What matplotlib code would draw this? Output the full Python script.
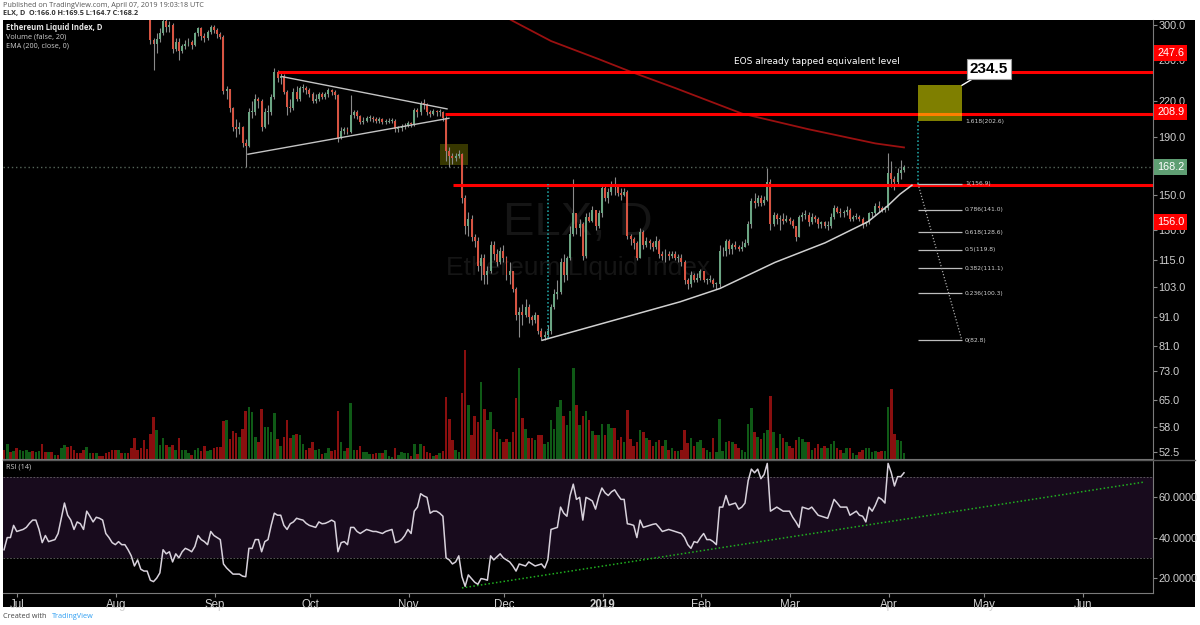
import matplotlib
matplotlib.use("Agg")
import matplotlib.pyplot as plt
import matplotlib.transforms as mtransforms
from matplotlib.patches import Rectangle
from matplotlib.lines import Line2D
import numpy as np
import pandas as pd

plt.rcParams['font.family'] = ['Liberation Sans', 'DejaVu Sans']

W, H = 1200, 625

# ---------------- values ----------------
t0 = pd.Timestamp("2018-07-01")        # x = days since this date

candle_first = "2018-08-10"
open_first = 345.0
closes = [
    335, 320, 318, 282, 278, 283, 290, 305, 297, 300, 272, 280, 270, 275, 278, 280, 276, 290, 296, 287, 284, 291,  # Aug 10-31
    297, 294, 289, 286, 229, 231, 214, 198, 196, 198, 185, 183, 210, 210, 222, 220, 198, 210, 210, 224, 248, 242, 244, 228, 215, 214, 228, 222, 232, 232,  # Sep
    230, 226, 220, 222, 226, 224, 226, 230, 228, 225, 189, 195, 196, 194, 208, 210, 207, 202, 203, 205, 205, 204, 203, 204, 202, 202, 203, 203, 196, 197, 198,  # Oct
    199, 201, 200, 212, 210, 218, 217, 210, 209, 211, 210, 210, 205, 179, 176, 174, 176, 177, 148, 132, 136, 126, 124, 112, 116, 108, 110, 122, 118, 114,  # Nov
    119, 116, 108, 110, 102, 92, 93, 92, 95, 91, 90, 92, 86, 84, 84.5, 86, 95, 100, 101, 114, 108, 116, 128, 139, 131, 133, 117, 137, 135, 141, 132,  # Dec
    139, 154, 148, 152, 156, 155, 151, 150, 152, 127, 125, 123, 116, 129, 122, 124, 123, 121, 124, 118, 117, 118, 117, 118, 116, 116, 114, 106, 104, 108, 106,  # Jan
    107, 110, 106, 106, 106, 104, 104, 119, 119, 124, 120, 122, 121, 120, 121, 123, 133, 146, 145, 148, 145, 147, 158, 133, 138, 136, 136, 135,  # Feb
    136, 135, 132, 126, 137, 138, 138, 134, 137, 136, 133, 134, 132, 132, 137, 142, 140, 139, 140, 141, 136, 137, 137, 136, 133, 134, 139, 139, 143, 142, 141,  # Mar
    142, 164, 160, 158, 164, 166, 168.2,  # Apr 1-7
]
highs = [
    365, 335, 325, 320, 285, 290, 296, 312, 310, 305, 302, 285, 285, 278, 282, 284, 282, 292, 298, 297, 290, 294,
    300, 300, 296, 292, 288, 234, 231, 215, 204, 202, 199, 188, 214, 220, 226, 224, 222, 214, 216, 226, 252, 250, 248, 246, 230, 222, 232, 234, 234, 236,
    234, 232, 228, 226, 228, 228, 228, 232, 231, 230, 226, 198, 198, 198, 225, 212, 212, 208, 206, 207, 208, 207, 206, 206, 205, 204, 205, 205, 204, 199, 200,
    201, 203, 202, 214, 214, 220, 222, 218, 212, 213, 212, 213, 211, 207, 182, 178, 178, 180, 178, 150, 140, 138, 128, 126, 118, 118, 112, 124, 124, 120,
    121, 122, 117, 114, 110, 103, 95, 96, 98, 96, 92, 93, 92, 87, 86, 88, 96, 102, 106, 116, 118, 117, 132, 160, 139, 136, 134, 139, 140, 143, 141,
    141, 156, 156, 154, 159, 161, 157, 154, 154, 153, 128, 126, 124, 131, 130, 126, 125, 124, 127, 125, 119, 120, 119, 119, 119, 118, 118, 115, 107, 110, 109,
    109, 111, 110, 107, 108, 107, 105, 122, 121, 125, 125, 123, 124, 122, 124, 125, 135, 148, 151, 150, 150, 149, 167, 160, 140, 139, 138, 139,
    138, 137, 136, 132, 138, 140, 141, 140, 139, 138, 137, 135, 135, 135, 139, 144, 143, 142, 141, 143, 142, 138, 139, 138, 137, 135, 140, 140, 145, 146, 143,
    143, 178, 172, 162, 167, 173, 169.5,
]
lows = [
    330, 312, 310, 278, 250, 268, 280, 288, 292, 292, 268, 270, 260, 268, 272, 275, 272, 275, 287, 282, 280, 282,
    289, 290, 285, 283, 226, 222, 210, 195, 190, 192, 182, 168, 182, 205, 208, 214, 195, 197, 200, 208, 222, 238, 236, 226, 208, 210, 212, 220, 220, 228,
    226, 224, 218, 218, 220, 222, 222, 224, 225, 222, 186, 188, 192, 192, 193, 205, 204, 200, 200, 202, 203, 202, 201, 201, 200, 200, 201, 201, 194, 194, 195,
    196, 198, 198, 199, 206, 208, 213, 208, 206, 208, 207, 207, 203, 172, 168, 170, 172, 174, 145, 128, 127, 124, 121, 110, 106, 104, 104, 109, 115, 112,
    113, 114, 106, 104, 101, 90, 84, 88, 91, 89, 88, 89, 85, 82.8, 82.8, 84, 85, 94, 98, 100, 105, 106, 115, 127, 128, 127, 115, 116, 134, 134, 130,
    131, 137, 146, 145, 150, 150, 149, 147, 149, 125, 122, 120, 115, 116, 120, 121, 120, 119, 120, 116, 115, 114, 115, 116, 115, 114, 112, 104, 102, 103, 105,
    105, 106, 105, 104, 105, 103, 102, 103, 117, 117, 118, 118, 120, 119, 119, 121, 122, 131, 142, 143, 143, 144, 146, 130, 132, 133, 130, 133,
    134, 133, 131, 124, 126, 135, 136, 132, 133, 134, 131, 131, 131, 130, 131, 136, 139, 137, 137, 138, 135, 135, 136, 135, 131, 132, 133, 137, 138, 140, 140,
    140, 141, 155, 153, 157, 160, 164.7,
]

series_first = "2018-06-28"   # first day of the volume / RSI series
volume = [
    9, 15, 7, 8, 11, 9, 8, 9, 7, 8, 7, 8, 15,
    7, 7, 7, 4, 4, 11, 14, 12, 13, 9,
    6, 6, 9, 12, 6, 6, 6, 3, 3, 6,
    7, 9, 9, 9, 6, 6, 6, 11, 21, 9,
    11, 19, 10, 25, 42, 29, 14, 21, 14, 12,
    14, 9, 21, 9, 9, 6, 4, 9, 11, 8,
    13, 8, 9, 11, 12, 12, 38, 39, 20, 28,
    26, 22, 30, 48, 52, 47, 22, 17, 50, 32,
    32, 27, 46, 20, 13, 22, 39, 21, 24, 25,
    24, 15, 9, 11, 17, 9, 10, 5, 6, 11,
    8, 9, 48, 17, 8, 11, 56, 9, 9, 13,
    7, 7, 5, 5, 6, 6, 6, 9, 3, 2,
    11, 4, 7, 6, 6, 3, 15, 5, 15, 13,
    7, 6, 3, 4, 6, 8, 61, 40, 19, 9,
    7, 65, 108, 54, 24, 43, 37, 76, 50, 39,
    47, 30, 27, 20, 17, 20, 17, 27, 60, 90,
    41, 30, 21, 21, 19, 24, 24, 15, 17, 39,
    30, 52, 58, 43, 34, 48, 90, 54, 34, 43,
    48, 39, 28, 24, 24, 35, 24, 35, 31, 31,
    19, 22, 17, 49, 20, 13, 17, 29, 27, 21,
    19, 13, 17, 19, 13, 19, 9, 11, 8, 8,
    9, 29, 16, 21, 13, 17, 19, 11, 9, 7,
    21, 7, 40, 8, 17, 18, 17, 15, 11, 9,
    7, 35, 51, 27, 22, 20, 26, 29, 62, 27,
    11, 25, 21, 17, 13, 11, 19, 22, 20, 17,
    17, 9, 11, 15, 11, 13, 11, 15, 18, 11,
    9, 6, 11, 11, 6, 4, 7, 9, 11, 11,
    7, 8, 7, 8, 8, 52, 69, 25, 19, 18, 6,
]
# up/down colour of the volume bars that come before the first visible candle
vol_dir_early = "rgrgrggggr" + "ggrrgrgrgg" + "rrrrrrggrg" + "rrrrrrgrgr" + "rrr"

rsi = [
    34, 40, 40, 46, 43, 43.5, 44, 45, 47, 48.6, 48.6, 44, 37.5,
    41, 38, 38.5, 39, 42, 49.5, 57, 51, 48.6, 44,
    47.7, 46.8, 44, 53, 50.5, 47.7, 50, 49.5, 48.6, 42,
    40, 37.5, 36.5, 38, 36.5, 36.5, 34, 31, 26, 29,
    24.4, 23.5, 23.5, 19, 18.3, 20, 22.6, 34, 32, 33,
    28, 32, 30, 33, 34.7, 34, 33, 35.6, 41, 39,
    38, 36.5, 43, 41, 40, 39, 27, 25, 23.5, 22,
    22, 22, 21, 20.7, 34.7, 34.7, 39, 39, 33, 38,
    39, 46, 52, 51, 51, 46, 44, 46.8, 47.7, 49.5,
    49, 48.6, 47, 46, 45.5, 45, 47.7, 46.8, 47, 47.7,
    48.6, 47.7, 33, 37.5, 38, 36.5, 45, 45, 43, 42,
    43, 44, 43.5, 43, 43, 42.5, 42, 43, 43.5, 44,
    37.5, 38, 39, 41, 44, 42, 53, 55, 61.6, 60.5,
    59.8, 52, 53, 53, 52, 50.5, 30, 29, 27, 28,
    31, 20.7, 16, 21.6, 19.8, 18, 17, 19.8, 19.5, 19,
    31, 29, 30.5, 32, 30, 29, 28, 26, 23.5, 27,
    26.5, 26, 28, 27, 26, 26.5, 27, 25, 29, 44,
    44.5, 45, 55, 52, 50.5, 60.7, 66.3, 58.8, 59.8, 48.6,
    59.8, 59, 58, 54, 60, 64.4, 62, 60.7, 62.5, 63.5,
    61, 58.8, 58.8, 46.8, 46.5, 46, 40, 48.6, 45, 45.5,
    46, 46.5, 46.8, 45, 43, 43.5, 44, 43.5, 43, 42.5,
    42, 40, 36.5, 34.7, 38, 37.5, 40, 42, 39, 39,
    38, 36.5, 55, 55, 60.7, 56, 56.5, 57, 54, 55,
    57, 68, 73.7, 71.9, 73.7, 69, 71, 76.5, 53, 54,
    55, 54, 53, 53, 53, 50, 47.7, 45, 55, 54.5,
    54, 55, 53, 51, 50.5, 50, 49.5, 54, 58.8, 57,
    55, 55, 55, 51, 52, 53, 51, 50.5, 47.7, 55,
    53, 56, 59.8, 58.8, 57, 76.5, 71.9, 65.4, 70, 70, 71.9,
]

ema_dates = ["2018-11-30", "2018-12-05", "2018-12-17", "2019-01-01", "2019-01-11",
             "2019-01-25", "2019-02-15", "2019-03-08", "2019-03-29", "2019-04-07"]
ema_vals = [316, 305, 281, 261, 248, 232, 209, 196, 185, 182]

resist_levels = [247.6, 208.9, 156.0]
fib_ratios = ["1", "0.786", "0.618", "0.5", "0.382", "0.236", "0"]
fib_prices = [156.9, 141.0, 128.6, 119.8, 111.1, 100.3, 82.8]
ext_ratio, ext_price = "1.618", 202.6
target = 234.5
last_price = 168.2

# hand-drawn lines on the chart, (day, price)
tri_upper = ([84.4, 136.3], [243, 213])
tri_lower = ([73.7, 136.9], [177, 205])
support_x = [166.2, 209.6, 222.1, 239.4, 255.2, 263.0, 268.7, 275.0, 278.7, 282.5]
support_y = [82.8, 96.9, 102.3, 113.8, 123.3, 129.6, 134.4, 143.6, 150.3, 156.0]
rsi_trend = ([141, 355.8], [15.2, 67.4])

price_ticks = [300, 260, 220, 190, 150, 130, 115, 103, 91, 81, 73, 65, 58, 52.5]
rsi_ticks = [20, 40, 60]
month_starts = ["2018-07-01", "2018-08-01", "2018-09-01", "2018-10-01", "2018-11-01", "2018-12-01",
                "2019-01-01", "2019-02-01", "2019-03-01", "2019-04-01", "2019-05-01", "2019-06-01"]
month_labels = ["Jul", "Aug", "Sep", "Oct", "Nov", "Dec", "2019", "Feb", "Mar", "Apr", "May", "Jun"]

# ---------------- styling ----------------
UP, DN = '#6ba583', '#d75442'
VUP, VDN = '#0f5a16', '#8a0f0f'
WICK = '#8a8a8a'
TXT = '#d0d0d0'
RED = '#ff0000'


def day(s):
    return (pd.Timestamp(s) - t0).days


def fx(px):
    return px / W


def fy(py):
    return 1 - py / H


fig = plt.figure(figsize=(W / 100, H / 100), dpi=100)
fig.patch.set_facecolor('white')
fig.add_artist(Rectangle((fx(3), fy(607)), (1195 - 3) / W, (607 - 20) / H,
                         transform=fig.transFigure, facecolor='black', edgecolor='none', zorder=-1))

XL = (-3.33, 358.3)
rect_price = [fx(3), fy(459), (1153 - 3) / W, (459 - 20) / H]
rect_rsi = [fx(3), fy(593), (1153 - 3) / W, (593 - 461) / H]

axv = fig.add_axes(rect_price)
axv.set_facecolor('none')
axv.axis('off')
ax = fig.add_axes(rect_price)
ax.set_facecolor('none')
axr = fig.add_axes(rect_rsi)
axr.set_facecolor('none')

# candles
c = np.array(closes, float)
o = np.r_[open_first, c[:-1]]
hi = np.maximum(np.array(highs, float), np.maximum(o, c))
lo = np.minimum(np.array(lows, float), np.minimum(o, c))
cx = np.arange(len(c)) + day(candle_first)
up = c >= o
ccol = np.where(up, UP, DN)
ax.vlines(cx, lo, hi, colors=WICK, lw=0.8, zorder=3)
ax.bar(cx, np.maximum(np.abs(c - o), c * 0.004), bottom=np.minimum(o, c), width=0.62,
       color=ccol, linewidth=0, zorder=4)

# volume
vx = np.arange(len(volume)) + day(series_first)
vcol = []
for d in vx:
    if d < cx[0]:
        vcol.append(VUP if vol_dir_early[d - vx[0]] == 'g' else VDN)
    else:
        vcol.append(VUP if up[d - cx[0]] else VDN)
axv.bar(vx, volume, width=0.8, color=vcol, linewidth=0)
axv.set_xlim(XL)
axv.set_ylim(0, max(volume) * 4.03)

# EMA 200
ax.plot([day(s) for s in ema_dates], ema_vals, color='#9a1010', lw=1.3, zorder=2)

# last price line
ax.axhline(last_price, color='#56665a', ls=(0, (1, 2)), lw=1, zorder=1)

# resistance lines
for lvl, start in zip(resist_levels, [83.1, 135.7, 138.2]):
    ax.hlines(lvl, start, XL[1], colors=RED, lw=2.2, zorder=5)

# triangle and support curve
ax.plot(*tri_upper, color='#c4c4c4', lw=1, zorder=5)
ax.plot(*tri_lower, color='#c4c4c4', lw=1, zorder=5)
ax.plot(support_x, support_y, color='#d0d0d0', lw=1.1, zorder=5)

# small box after the triangle break
ax.add_patch(Rectangle((134.1, 169.5), 8.8, 184.3 - 169.5, facecolor='#ffff00', alpha=0.22,
                       edgecolor='none', zorder=2))

# cyan measuring lines
ax.vlines(168, 83.5, fib_prices[0], colors='#22b0b0', ls=(0, (1, 1.5)), lw=1.1, zorder=5)
ax.vlines(284.4, fib_prices[0], ext_price, colors='#22b0b0', ls=(0, (1, 1.5)), lw=1.1, zorder=5)

# fib retracement
fx0, fx1 = 284.4, 298.2
ax.hlines(fib_prices, fx0, fx1, colors='#bdbdbd', lw=0.9, zorder=6)
ax.plot([fx0, fx1], [fib_prices[0], fib_prices[-1]], color='#a8a8a8', ls=(0, (1, 1.5)), lw=0.9, zorder=6)
for r, p in zip(fib_ratios, fib_prices):
    ax.text(fx1 + 1.0, p, f"{r}({p:.1f})", color=TXT, fontsize=4.3, va='center', ha='left',
            family='DejaVu Sans', zorder=7)
ax.text(fx1 + 1.0, ext_price, f"{ext_ratio}({ext_price:.1f})", color=TXT, fontsize=4.3,
        va='center', ha='left', family='DejaVu Sans', zorder=7)

# target box and callout
ax.add_patch(Rectangle((fx0, ext_price), fx1 - fx0, target - ext_price, facecolor='#ffff00',
                       alpha=0.5, edgecolor='none', zorder=6))
ax.annotate(f"{target}", xy=(fx1, target), xytext=(306.7, 250.6), fontsize=11, fontweight='bold',
            color='black', ha='center', va='center', zorder=8,
            bbox=dict(boxstyle='square,pad=0.2', fc='white', ec='#9a9a9a', lw=0.8),
            arrowprops=dict(arrowstyle='-', color='white', lw=1, shrinkA=0, shrinkB=0))

ax.text(252.6, 258, "EOS already tapped equivalent level", color='white', fontsize=6.5,
        ha='center', va='center', family='DejaVu Sans', zorder=7)

# watermark
ax.text(177.5, 133.9, "ELX, D", color='#151515', fontsize=34, ha='center', va='center', zorder=0.5)
ax.text(177.5, 111.4, "Ethereum Liquid Index", color='#151515', fontsize=19, ha='center',
        va='center', zorder=0.5)

# price axis
ax.set_yscale('log')
ax.set_xlim(XL)
ax.set_ylim(51.0, 306.2)
ax.set_yticks(price_ticks)
ax.set_yticklabels([f"{t:.1f}" for t in price_ticks])
ax.minorticks_off()
ax.yaxis.tick_right()
ax.tick_params(axis='y', colors='#888888', labelcolor=TXT, labelsize=7.8, length=3, pad=1)
ax.set_xticks([])
for s in ['top', 'left']:
    ax.spines[s].set_visible(False)
for s in ['right', 'bottom']:
    ax.spines[s].set_color('#7a7a7a')

# coloured price labels on the axis
blend = mtransforms.blended_transform_factory(ax.transAxes, ax.transData)
for txt, ypos, colr in [("247.6", 267.6, RED), ("208.9", 210.4, RED),
                        ("168.2", 168.2, '#5f9e73'), ("156.0", 134.2, RED)]:
    ax.text(1.0035, ypos, txt, transform=blend, color='white', fontsize=7.8, va='center',
            ha='left', zorder=9, bbox=dict(boxstyle='square,pad=0.28', fc=colr, ec='none'))

# RSI pane
rx = np.arange(len(rsi)) + day(series_first)
axr.axhspan(30, 70, color='#180b1d', lw=0, zorder=0)
for lv in (70, 30):
    axr.axhline(lv, color='#666666', ls=(0, (2, 2)), lw=0.6, zorder=1)
axr.plot(rx, rsi, color='#d8d2dc', lw=1.1, zorder=3)
axr.plot(*rsi_trend, color='#20b020', ls=(0, (1, 1.5)), lw=1.1, zorder=2)
axr.set_xlim(XL)
axr.set_ylim(12.7, 77.7)
axr.yaxis.tick_right()
axr.set_yticks(rsi_ticks)
axr.set_yticklabels([f"{v:.4f}" for v in rsi_ticks])
axr.tick_params(axis='y', colors='#888888', labelcolor=TXT, labelsize=7.8, length=3, pad=1)
axr.set_xticks([day(s) + 1.2 for s in month_starts])
axr.set_xticklabels(month_labels)
axr.tick_params(axis='x', colors='#888888', labelcolor=TXT, labelsize=8.3, length=3, pad=1.2)
for lab in axr.get_xticklabels():
    if lab.get_text() == "2019":
        lab.set_fontweight('bold')
for s in ['top', 'left']:
    axr.spines[s].set_visible(False)
for s in ['right', 'bottom']:
    axr.spines[s].set_color('#7a7a7a')

# separator between panes
fig.add_artist(Line2D([fx(3), fx(1195)], [fy(460), fy(460)], transform=fig.transFigure,
                      color='#5a5a5a', lw=1))

# legends and page text
fig.text(fx(6), fy(28), "Ethereum Liquid Index, D", color='#e8e8e8', fontsize=5.5,
         fontweight='bold', va='center', family='Open Sans')
fig.text(fx(6), fy(37), "Volume (false, 20)", color='#cfcfcf', fontsize=5.2, va='center',
         family='Open Sans')
fig.text(fx(6), fy(46), "EMA (200, close, 0)", color='#cfcfcf', fontsize=5.2, va='center',
         family='Open Sans')
fig.text(fx(6), fy(467), "RSI (14)", color='#cfcfcf', fontsize=5.2, va='center', family='Open Sans')

fig.text(fx(3), fy(5.5), "Published on TradingView.com, April 07, 2019 19:03:18 UTC", color='#555555',
         fontsize=5.2, va='center', family='Open Sans')
fig.text(fx(3), fy(14), "ELX, D  O:166.0 H:169.5 L:164.7 C:168.2", color='#333333', fontsize=5.2,
         fontweight='bold', va='center', family='Open Sans')
fig.text(fx(3), fy(617), "Created with", color='#444444', fontsize=5.2, va='center', family='Open Sans')
fig.text(fx(52), fy(617), "TradingView", color='#2e9ef2', fontsize=5.2, va='center', family='Open Sans')

fig.savefig("out.png", dpi=100, facecolor='white')
